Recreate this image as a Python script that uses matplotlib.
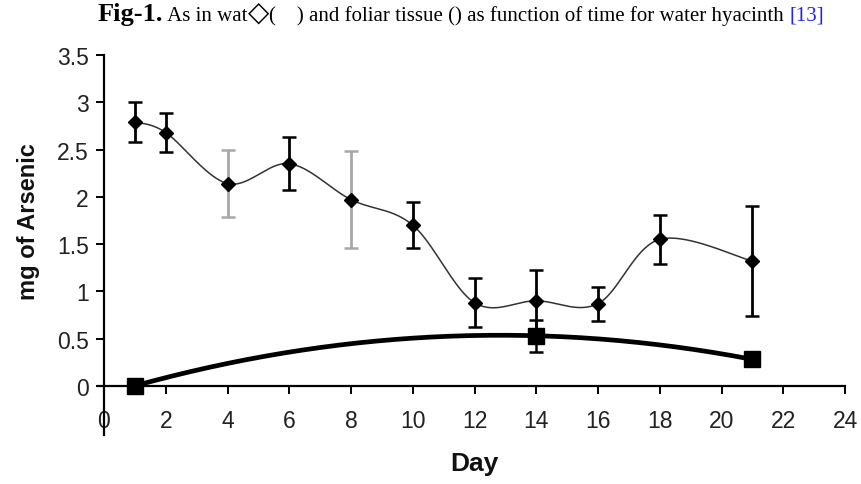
import numpy as np
import matplotlib
matplotlib.use("Agg")
import matplotlib.pyplot as plt

# water (diamonds) and foliar tissue (squares)
days_water = [1, 2, 4, 6, 8, 10, 12, 14, 16, 18, 21]
as_water = [2.79, 2.68, 2.14, 2.35, 1.97, 1.70, 0.88, 0.90, 0.87, 1.55, 1.32]
err_water = [0.21, 0.21, 0.35, 0.28, 0.51, 0.24, 0.26, 0.33, 0.18, 0.26, 0.58]
gray_err_days = [4, 8]

days_leaf = [1, 14, 21]
as_leaf = [0.0, 0.53, 0.28]
err_leaf = [0.0, 0.17, 0.0]

x_ticks = list(range(0, 25, 2))
y_ticks = [0, 0.5, 1, 1.5, 2, 2.5, 3, 3.5]


def smooth_line(x, y, n=40):
    # Catmull-Rom style smoothing like a spreadsheet "smoothed line"
    p = np.column_stack([x, y]).astype(float)
    p = np.vstack([p[0], p, p[-1]])
    out = []
    t = np.linspace(0, 1, n)[:, None]
    for i in range(1, len(p) - 2):
        p0, p1, p2, p3 = p[i - 1], p[i], p[i + 1], p[i + 2]
        c1 = p1 + (p2 - p0) / 6.0
        c2 = p2 - (p3 - p1) / 6.0
        seg = ((1 - t) ** 3) * p1 + 3 * ((1 - t) ** 2) * t * c1 \
            + 3 * (1 - t) * t ** 2 * c2 + t ** 3 * p2
        out.append(seg)
    out = np.vstack(out)
    return out[:, 0], out[:, 1]


def trend_line(x, y, n=200):
    coef = np.polyfit(x, y, 2)
    xs = np.linspace(min(x), max(x), n)
    return xs, np.polyval(coef, xs)


W, H = 861, 485
fig = plt.figure(figsize=(W / 100, H / 100), dpi=100)
ax = fig.add_axes([104 / W, 49 / H, (845 - 104) / W, (436 - 56) / H])

# water series
sx, sy = smooth_line(days_water, as_water)
ax.plot(sx, sy, color="#333333", lw=1.1, zorder=2)
for d, v, e in zip(days_water, as_water, err_water):
    gray = d in gray_err_days
    ax.errorbar(d, v, yerr=e, fmt="none", ecolor="#a8a8a8" if gray else "black",
                elinewidth=2.0, capsize=5, capthick=1.8, zorder=3)
ax.plot(days_water, as_water, "D", color="black", ms=7, zorder=4)

# foliar tissue series
tx, ty = trend_line(days_leaf, as_leaf)
ax.plot(tx, ty, color="black", lw=3.4, zorder=5)
ax.errorbar(days_leaf, as_leaf, yerr=err_leaf, fmt="none", ecolor="black",
            elinewidth=1.8, capsize=5, capthick=1.8, zorder=5)
ax.plot(days_leaf, as_leaf, "s", color="black", ms=11, zorder=6)

ax.set_xlim(0, 24)
ax.set_ylim(-0.52, 3.5)
ax.spines["top"].set_visible(False)
ax.spines["right"].set_visible(False)
ax.spines["bottom"].set_position(("data", 0))
ax.spines["bottom"].set_bounds(-0.2, 24)
for s in ("left", "bottom"):
    ax.spines[s].set_linewidth(1.6)
ax.set_xticks(x_ticks)
ax.set_yticks(y_ticks)
ax.set_yticklabels([f"{v:g}" for v in y_ticks])
ax.tick_params(axis="both", direction="out", length=6, width=1.4,
               labelsize=16.5, labelcolor="#222222")
ax.tick_params(axis="x", pad=11)
ax.tick_params(axis="y", pad=5)
for lab in ax.get_xticklabels() + ax.get_yticklabels():
    lab.set_fontfamily("Liberation Sans")

fig.text(474 / W, 1 - 464 / H, "Day", ha="center", va="center",
         fontsize=19, fontweight="bold", family="Liberation Sans", color="#111111")
fig.text(28 / W, 1 - 222 / H, "mg of Arsenic", ha="center", va="center",
         rotation=90, fontsize=17, fontweight="bold", family="Liberation Sans",
         color="#111111")

# title in pieces
fig.canvas.draw()
renderer = fig.canvas.get_renderer()
ty0 = 1 - 21 / H
x_px = 98
pieces = [
    ("Fig-1.", dict(fontsize=19, fontweight="bold"), "black"),
    (" As in wat", dict(fontsize=15), "black"),
    ("\u25c7", dict(fontsize=20), "black"),
    ("(    ) and foliar tissue () as function of time for water hyacinth ", dict(fontsize=15), "black"),
    ("[13]", dict(fontsize=15), "#2222ee"),
]
for txt, kw, col in pieces:
    t = fig.text(x_px / W, ty0, txt, ha="left", va="baseline", color=col,
                 family=["Liberation Serif", "DejaVu Sans"], **kw)
    bb = t.get_window_extent(renderer)
    x_px = x_px + bb.width

fig.savefig("out.png", dpi=100)
